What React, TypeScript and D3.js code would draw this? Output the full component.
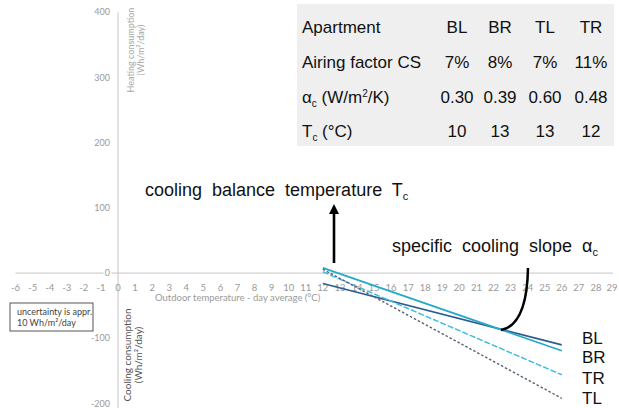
import React from "react";
import * as d3 from "d3";

// ---- data ----
const seriesNames = ["BL", "BR", "TR", "TL"];
const startTemps = [12, 12, 12, 12];
const endTemps = [26, 26, 26, 26];
const startValues = [-16, 8, 2, 6];
const endValues = [-110, -119, -156, -192];

const xTickValues = d3.range(-6, 30);
const yTickValues = [-200, -100, 0, 100, 200, 300, 400];

const tableHeader = ["BL", "BR", "TL", "TR"];
const airingFactors = ["7%", "8%", "7%", "11%"];
const alphaValues = ["0.30", "0.39", "0.60", "0.48"];
const tcValues = ["10", "13", "13", "12"];

// ---- styles ----
const W = 619;
const H = 408;
const lineStyles = [
  { color: "#2c5d8c", dash: "none", width: 1.7 },
  { color: "#27a9cc", dash: "none", width: 1.7 },
  { color: "#3fbde3", dash: "6 2", width: 1.5 },
  { color: "#566370", dash: "2.5 2", width: 1.4 },
];
const labelOffsets = [-7, 6, 3, 0];
const axisFont = "Lato, 'Open Sans', sans-serif";
const arial = "'Liberation Sans', Arial, sans-serif";

export default function App() {
  const x = d3.scaleLinear().domain([0, 29]).range([118, 613]);
  const y = d3.scaleLinear().domain([-200, 400]).range([403.5, 12.3]);
  const line = d3
    .line<[number, number]>()
    .x((d) => x(d[0]))
    .y((d) => y(d[1]));

  const colX = [457, 500, 545, 591];
  const rowY = [33, 68, 103, 137];

  return (
    <svg
      width={W}
      height={H}
      style={{ position: "absolute", left: 0, top: 0, background: "#fff" }}
    >
      {/* table background */}
      <rect x={297} y={4} width={317} height={142} fill="#efefef" />

      {/* axes */}
      <line x1={x(-6)} x2={x(29)} y1={y(0)} y2={y(0)} stroke="#c4c4c4" strokeWidth={1} />
      <line x1={x(0)} x2={x(0)} y1={y(400)} y2={H} stroke="#c4c4c4" strokeWidth={1} />

      {yTickValues.map((v) => (
        <text
          key={v}
          x={110}
          y={y(v)}
          dy="0.35em"
          textAnchor="end"
          fontSize={9}
          fontFamily={axisFont}
          fill="#9a9a9a"
          stroke={v === 0 ? "#fff" : "none"}
          strokeWidth={3}
          paintOrder="stroke"
        >
          {v}
        </text>
      ))}
      {xTickValues.map((v) => (
        <text
          key={v}
          x={Math.min(x(v), W - 7)}
          y={y(0) + 15}
          dy="0.35em"
          textAnchor="middle"
          fontSize={9.5}
          fontFamily={axisFont}
          fill="#9a9a9a"
        >
          {v < 0 ? "-" + Math.abs(v) : v}
        </text>
      ))}

      <text x={155} y={301} fontSize={9.5} fontFamily={axisFont} fill="#9a9a9a">
        Outdoor temperature - day average (°C)
      </text>

      {/* y axis titles */}
      <g transform="translate(134,50) rotate(-90)" fontFamily={axisFont} fontSize={9} fill="#a8a8a8" textAnchor="middle">
        <text x={0} y={0}>Heating consumption</text>
        <text x={0} y={10}>(Wh/m²/day)</text>
      </g>
      <g transform="translate(131,355) rotate(-90)" fontFamily={axisFont} fontSize={10} fill="#555" textAnchor="middle">
        <text x={0} y={0}>Cooling consumption</text>
        <text x={0} y={11}>(Wh/m²/day)</text>
      </g>

      {/* uncertainty box */}
      <rect x={10} y={303} width={83} height={28} fill="#fff" stroke="#555" strokeWidth={1} />
      <text x={17} y={315} fontSize={9} fontFamily={axisFont} fill="#444">
        uncertainty is appr.
      </text>
      <text x={17} y={326} fontSize={9} fontFamily={axisFont} fill="#444">
        10 Wh/m²/day
      </text>

      {/* series lines */}
      {seriesNames.map((name, i) => (
        <path
          key={name}
          d={line([
            [startTemps[i], startValues[i]],
            [endTemps[i], endValues[i]],
          ]) || ""}
          fill="none"
          stroke={lineStyles[i].color}
          strokeWidth={lineStyles[i].width}
          strokeDasharray={lineStyles[i].dash}
        />
      ))}
      {seriesNames.map((name, i) => (
        <text
          key={name}
          x={582}
          y={y(endValues[i]) + labelOffsets[i]}
          dy="0.35em"
          fontSize={17}
          fontFamily={arial}
          fill="#111"
        >
          {name}
        </text>
      ))}

      {/* annotations */}
      <line x1={334} x2={334} y1={263} y2={212} stroke="#000" strokeWidth={2.6} />
      <path d="M329,214 L334,204 L339,214 Z" fill="#000" />
      <path d="M501,330 Q527,325 528,268" fill="none" stroke="#000" strokeWidth={2.5} />

      <text x={145} y={196} fontSize={18} fontFamily={arial} fill="#111" wordSpacing={5}>
        cooling balance temperature T
        <tspan fontSize={11} dy={4}>c</tspan>
      </text>
      <text x={392} y={252} fontSize={18} fontFamily={arial} fill="#111" wordSpacing={5}>
        specific cooling slope α
        <tspan fontSize={11} dy={4}>c</tspan>
      </text>

      {/* table */}
      <g fontFamily={arial} fontSize={17} fill="#111">
        <text x={302} y={rowY[0]}>Apartment</text>
        <text x={302} y={rowY[1]}>Airing factor CS</text>
        <text x={302} y={rowY[2]}>
          α<tspan fontSize={10} dy={4}>c</tspan>
          <tspan dy={-4}> (W/m</tspan>
          <tspan fontSize={10} dy={-6}>2</tspan>
          <tspan dy={6}>/K)</tspan>
        </text>
        <text x={302} y={rowY[3]}>
          T<tspan fontSize={10} dy={4}>c</tspan>
          <tspan dy={-4}> (°C)</tspan>
        </text>
        {tableHeader.map((h, i) => (
          <text key={"h" + i} x={colX[i]} y={rowY[0]} textAnchor="middle">{h}</text>
        ))}
        {airingFactors.map((v, i) => (
          <text key={"a" + i} x={colX[i]} y={rowY[1]} textAnchor="middle">{v}</text>
        ))}
        {alphaValues.map((v, i) => (
          <text key={"al" + i} x={colX[i]} y={rowY[2]} textAnchor="middle">{v}</text>
        ))}
        {tcValues.map((v, i) => (
          <text key={"t" + i} x={colX[i]} y={rowY[3]} textAnchor="middle">{v}</text>
        ))}
      </g>
    </svg>
  );
}
